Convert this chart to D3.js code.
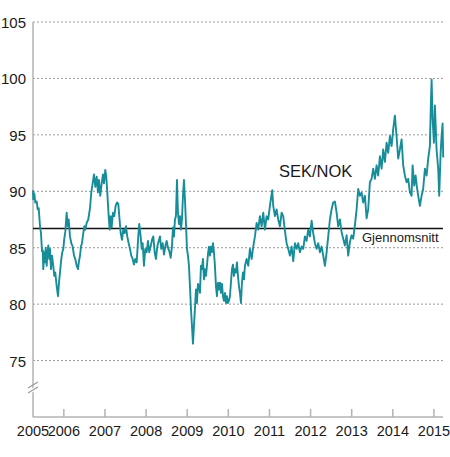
<!DOCTYPE html>
<html>
<head>
<meta charset="utf-8">
<script src="https://cdn.jsdelivr.net/npm/d3@7"></script>
<style>
  html, body { margin: 0; padding: 0; background: #fff; }
  svg { display: block; font-family: "Liberation Sans", Arial, sans-serif; }
</style>
</head>
<body>
<svg id="chart" width="450" height="457"></svg>
<script>
// ---- Data ----
const valueTicks = [75, 80, 85, 90, 95, 100, 105];
const yearTicks = [2006, 2007, 2008, 2009, 2010, 2011, 2012, 2013, 2014, 2015];
const firstYearLabel = "2005";
const average = 86.7;
const seriesLabel = "SEK/NOK";
const averageLabel = "Gjennomsnitt";

// decimal years
const dates = [
 2005.250,2005.257,2005.282,2005.306,2005.340,2005.364,2005.389,2005.420,2005.444,2005.469,
 2005.486,2005.500,2005.525,2005.542,2005.559,2005.583,2005.598,2005.622,2005.646,2005.663,
 2005.688,2005.712,2005.743,2005.768,2005.792,2005.826,2005.858,2005.882,2005.906,2005.938,
 2005.962,2005.987,2006.011,2006.035,2006.052,2006.069,2006.094,2006.118,2006.149,2006.181,
 2006.215,2006.247,2006.278,2006.312,2006.344,2006.368,2006.393,2006.417,2006.441,2006.473,
 2006.497,2006.521,2006.556,2006.594,2006.636,2006.667,2006.701,2006.733,2006.765,2006.799,
 2006.830,2006.854,2006.886,2006.920,2006.952,2006.976,2007.008,2007.032,2007.056,2007.090,
 2007.115,2007.139,2007.163,2007.195,2007.226,2007.260,2007.292,2007.324,2007.348,2007.382,
 2007.414,2007.445,2007.479,2007.511,2007.542,2007.576,2007.608,2007.640,2007.674,2007.705,
 2007.737,2007.771,2007.810,2007.834,2007.868,2007.893,2007.917,2007.948,2007.980,2008.014,
 2008.046,2008.077,2008.111,2008.143,2008.175,2008.209,2008.240,2008.272,2008.306,2008.337,
 2008.369,2008.403,2008.435,2008.466,2008.500,2008.532,2008.564,2008.598,2008.629,2008.654,
 2008.678,2008.702,2008.726,2008.751,2008.775,2008.799,2008.824,2008.848,2008.872,2008.897,
 2008.921,2008.945,2008.969,2008.994,2009.018,2009.042,2009.067,2009.091,2009.115,2009.140,
 2009.164,2009.188,2009.213,2009.237,2009.261,2009.286,2009.310,2009.334,2009.358,2009.383,
 2009.407,2009.431,2009.456,2009.480,2009.504,2009.529,2009.553,2009.577,2009.602,2009.626,
 2009.650,2009.674,2009.699,2009.723,2009.747,2009.772,2009.796,2009.820,2009.845,2009.869,
 2009.893,2009.918,2009.942,2009.966,2009.990,2010.015,2010.039,2010.063,2010.088,2010.112,
 2010.136,2010.161,2010.185,2010.209,2010.234,2010.258,2010.282,2010.307,2010.331,2010.355,
 2010.380,2010.404,2010.445,2010.484,2010.525,2010.567,2010.606,2010.647,2010.688,2010.727,
 2010.768,2010.810,2010.849,2010.890,2010.931,2010.970,2011.011,2011.067,2011.092,2011.133,
 2011.174,2011.213,2011.254,2011.296,2011.335,2011.376,2011.417,2011.456,2011.497,2011.539,
 2011.578,2011.619,2011.660,2011.699,2011.741,2011.782,2011.821,2011.862,2011.903,2011.943,
 2011.984,2012.025,2012.064,2012.105,2012.147,2012.186,2012.227,2012.268,2012.307,2012.349,
 2012.390,2012.429,2012.470,2012.511,2012.550,2012.591,2012.633,2012.672,2012.713,2012.754,
 2012.793,2012.834,2012.876,2012.915,2012.956,2012.997,2013.036,2013.078,2013.119,2013.158,
 2013.199,2013.240,2013.279,2013.321,2013.362,2013.401,2013.442,2013.483,2013.523,2013.564,
 2013.605,2013.644,2013.686,2013.727,2013.766,2013.807,2013.848,2013.887,2013.929,2013.970,
 2014.009,2014.050,2014.091,2014.130,2014.172,2014.213,2014.252,2014.293,2014.335,2014.374,
 2014.415,2014.456,2014.481,2014.520,2014.554,2014.585,2014.617,2014.658,2014.699,2014.738,
 2014.780,2014.821,2014.860,2014.901,2014.926,2014.943,2014.967,2014.999,2015.023,2015.064,
 2015.103,2015.128,2015.162,2015.186,2015.210,2015.225
];
const sekNok = [
 90.1,89.3,89.8,89.0,89.1,88.4,88.5,86.9,86.3,84.7,
 84.8,83.1,84.6,83.7,85.0,83.4,84.3,85.2,84.0,84.9,
 83.1,84.3,83.4,82.5,82.8,81.6,80.7,81.9,82.8,84.0,
 84.6,84.9,85.8,86.4,87.3,88.1,86.9,87.5,86.0,85.4,
 85.1,84.3,84.0,83.4,83.1,83.8,84.3,85.1,85.4,86.3,
 86.9,86.6,87.2,87.5,88.5,89.9,90.7,91.5,90.4,91.3,
 89.9,91.0,89.6,90.7,91.5,90.7,91.9,91.3,89.9,87.8,
 86.6,87.8,86.8,88.1,87.8,88.7,89.0,88.9,87.8,86.3,
 85.7,86.6,86.3,86.9,86.0,85.4,84.9,84.3,84.0,83.5,
 84.0,83.7,86.0,87.1,86.0,84.9,85.4,83.4,84.9,84.6,
 85.6,84.6,85.1,85.7,86.0,84.6,84.0,85.1,85.6,86.0,
 84.9,85.4,84.4,85.1,85.6,85.0,84.7,84.1,85.1,86.8,
 86.0,87.5,87.8,91.0,88.1,87.1,87.8,86.6,87.5,89.6,
 91.0,89.3,87.2,84.9,84.3,83.4,81.6,79.6,78.1,76.5,
 78.1,79.6,81.3,80.1,81.8,81.6,81.0,83.4,83.1,84.0,
 82.2,83.1,82.5,83.4,84.4,85.1,84.3,85.1,84.6,85.4,
 84.6,83.4,81.6,80.7,81.9,81.3,81.9,81.0,81.8,80.7,
 80.3,81.0,80.1,80.7,80.1,80.3,80.7,81.9,83.1,83.5,
 82.5,83.1,82.8,83.7,82.5,81.6,81.0,80.1,81.9,82.8,
 82.2,83.4,84.0,83.4,84.9,84.0,85.1,86.0,87.2,86.6,
 87.8,86.9,88.1,86.6,87.8,87.5,88.7,90.1,88.7,87.8,
 88.4,87.5,86.9,88.1,87.8,86.5,85.4,84.9,84.3,85.1,
 83.8,85.4,84.9,85.4,84.6,85.1,84.9,86.0,85.6,86.6,
 86.0,87.4,86.3,85.4,84.9,85.4,84.6,85.1,84.3,83.4,
 84.6,86.0,87.5,88.4,89.0,89.1,88.1,86.9,87.5,86.4,
 85.8,85.2,86.1,84.3,85.5,86.1,85.8,87.0,88.4,90.2,
 89.6,89.9,89.0,89.6,87.6,88.4,90.8,91.1,92.0,91.1,
 92.3,91.4,93.1,92.0,93.7,92.6,94.3,93.4,94.9,94.0,
 95.5,96.7,94.9,92.9,93.7,94.6,92.3,91.4,90.8,91.1,
 89.9,89.6,92.3,90.5,91.4,90.4,89.6,88.7,89.6,90.2,
 92.0,91.4,92.9,94.0,97.9,99.9,96.4,94.3,97.6,93.7,
 92.0,89.6,93.4,94.9,96.0,93.0
];

// ---- Layout ----
const svg = d3.select("#chart");
const plotL = 33, plotR = 443, plotT = 22, plotB = 417;

const x = d3.scaleLinear().domain([2005.25, 2015.22]).range([plotL, plotR]);
const y = d3.scaleLinear().domain([70, 105]).range([plotB, plotT]);

const textColor = "#1a1a1a";
const axisColor = "#b3b3b3";

// gridlines
svg.append("g").selectAll("line").data(valueTicks).join("line")
  .attr("x1", plotL).attr("x2", plotR)
  .attr("y1", d => y(d)).attr("y2", d => y(d))
  .attr("stroke", "#9a9a9a").attr("stroke-width", 1)
  .attr("stroke-dasharray", "2,2");

// y tick labels
svg.append("g").selectAll("text").data(valueTicks).join("text")
  .attr("x", 26).attr("y", d => y(d) + 6)
  .attr("text-anchor", "end")
  .attr("font-size", "15px").attr("fill", textColor)
  .text(d => d);

// y axis line
svg.append("line")
  .attr("x1", plotL).attr("x2", plotL).attr("y1", y(105)).attr("y2", plotB)
  .attr("stroke", axisColor).attr("stroke-width", 1.5);

// axis break mark
const breakY = 387;
svg.append("polygon")
  .attr("points", `${plotL-3},${breakY+3} ${plotL+3},${breakY-1} ${plotL+3},${breakY+3} ${plotL-3},${breakY+7}`)
  .attr("fill", "#fff");
[0, 5].forEach(off => {
  svg.append("line")
    .attr("x1", plotL - 5).attr("y1", breakY + off + 1)
    .attr("x2", plotL + 5).attr("y2", breakY + off - 5)
    .attr("stroke", "#999").attr("stroke-width", 1.1);
});

// x axis line
svg.append("line")
  .attr("x1", plotL).attr("x2", plotR).attr("y1", plotB).attr("y2", plotB)
  .attr("stroke", axisColor).attr("stroke-width", 1.5);

// x ticks
svg.append("g").selectAll("line").data(yearTicks).join("line")
  .attr("x1", d => x(d)).attr("x2", d => x(d))
  .attr("y1", plotB).attr("y2", plotB - 8)
  .attr("stroke", axisColor).attr("stroke-width", 1.5);

// x labels
const xLabels = [{v: 2005.25, t: firstYearLabel}].concat(yearTicks.map(d => ({v: d, t: String(d)})));
svg.append("g").selectAll("text").data(xLabels).join("text")
  .attr("x", d => x(d.v)).attr("y", 436)
  .attr("text-anchor", "middle")
  .attr("font-size", "14.5px").attr("fill", textColor)
  .text(d => d.t);

// average line
svg.append("line")
  .attr("x1", plotL).attr("x2", plotR)
  .attr("y1", y(average)).attr("y2", y(average))
  .attr("stroke", "#111").attr("stroke-width", 1.5);

// series line
const pts = dates.map((d, i) => [d, sekNok[i]]);
svg.append("path")
  .datum(pts)
  .attr("fill", "none")
  .attr("stroke", "#178d9a")
  .attr("stroke-width", 1.9)
  .attr("stroke-linejoin", "round")
  .attr("d", d3.line().x(d => x(d[0])).y(d => y(d[1])));

// labels
svg.append("text")
  .attr("x", 279).attr("y", 177)
  .attr("font-size", "16.5px").attr("fill", textColor)
  .text(seriesLabel);

svg.append("text")
  .attr("x", 362).attr("y", 242)
  .attr("font-size", "13px").attr("fill", textColor)
  .text(averageLabel);
</script>
</body>
</html>
